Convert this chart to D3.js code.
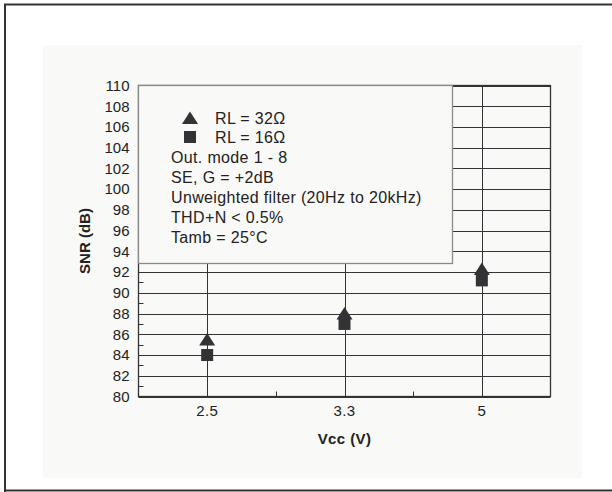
<!DOCTYPE html>
<html lang="en">
<head>
  <meta charset="UTF-8">
  <title>SNR vs Vcc</title>
  <script src="https://d3js.org/d3.v7.min.js"></script>
  <style>
    body { margin: 0; background: #fff; }
    svg { display: block; font-family: "Liberation Sans", Arial, sans-serif; }
  </style>
</head>
<body>
  <div id="chart"></div>
  <script>
    // data
    const vcc = ["2.5", "3.3", "5"];
    const snr32 = [85.5, 88.0, 92.3];   // RL = 32 ohm (triangles)
    const snr16 = [84.0, 87.0, 91.2];   // RL = 16 ohm (squares)
    const yTicks = d3.range(80, 111, 2);
    const yMinor = d3.range(81, 110, 2);
    const legendLines = [
      "Out. mode 1 - 8",
      "SE, G = +2dB",
      "Unweighted filter (20Hz to 20kHz)",
      "THD+N < 0.5%",
      "Tamb = 25\u00B0C"
    ];

    const width = 612, height = 492;
    const ink = "#333336";

    const svg = d3.select("#chart").append("svg")
      .attr("width", width)
      .attr("height", height);

    // page frame + panel background
    svg.append("path")
      .attr("d", "M5,620 V4.5 H620 M5,490.5 H620")
      .attr("fill", "none").attr("stroke", ink).attr("stroke-width", 2);
    svg.append("rect")
      .attr("x", 43).attr("y", 45).attr("width", 539).attr("height", 433)
      .attr("fill", "#f9f9f7");

    const pL = 138.5, pR = 550.5, pT = 85.5, pB = 396.5;

    const x = d3.scaleBand().domain(vcc).range([pL, pR]);
    const y = d3.scaleLinear().domain([80, 110]).range([pB, pT]);

    // horizontal grid
    svg.append("g").selectAll("line")
      .data(yTicks)
      .join("line")
      .attr("x1", pL).attr("x2", pR)
      .attr("y1", d => Math.round(y(d)) + 0.5)
      .attr("y2", d => Math.round(y(d)) + 0.5)
      .attr("stroke", ink);

    // minor ticks on the left axis
    svg.append("g").selectAll("line")
      .data(yMinor)
      .join("line")
      .attr("x1", pL).attr("x2", pL + 5)
      .attr("y1", d => Math.round(y(d)) + 0.5)
      .attr("y2", d => Math.round(y(d)) + 0.5)
      .attr("stroke", ink);

    // vertical grid through category centres
    svg.append("g").selectAll("line")
      .data(vcc)
      .join("line")
      .attr("x1", d => Math.round(x(d) + x.bandwidth() / 2) + 0.5)
      .attr("x2", d => Math.round(x(d) + x.bandwidth() / 2) + 0.5)
      .attr("y1", pT).attr("y2", pB)
      .attr("stroke", ink);

    // small ticks at category boundaries
    svg.append("g").selectAll("line")
      .data(vcc.slice(1))
      .join("line")
      .attr("x1", d => Math.round(x(d)) + 0.5)
      .attr("x2", d => Math.round(x(d)) + 0.5)
      .attr("y1", pB).attr("y2", pB - 5)
      .attr("stroke", ink);

    // plot frame
    svg.append("rect")
      .attr("x", pL).attr("y", pT)
      .attr("width", pR - pL).attr("height", pB - pT)
      .attr("fill", "none").attr("stroke", ink).attr("stroke-width", 1.3);

    // y tick labels
    const yAxis = d3.axisLeft(y).tickValues(yTicks).tickSize(0).tickPadding(9);
    svg.append("g")
      .attr("transform", `translate(${pL},0)`)
      .call(yAxis)
      .call(g => g.select(".domain").remove())
      .selectAll("text")
      .attr("font-size", 15).attr("fill", "#222")
      .attr("font-family", "Liberation Sans, Arial, sans-serif");

    // x tick labels
    const xAxis = d3.axisBottom(x).tickSize(0).tickPadding(9);
    svg.append("g")
      .attr("transform", `translate(0,${pB})`)
      .call(xAxis)
      .call(g => g.select(".domain").remove())
      .selectAll("text")
      .attr("font-size", 15).attr("fill", "#222")
      .attr("letter-spacing", 0.4)
      .attr("font-family", "Liberation Sans, Arial, sans-serif");

    // axis titles
    svg.append("text")
      .attr("x", (pL + pR) / 2).attr("y", 443.5)
      .attr("text-anchor", "middle")
      .attr("font-size", 15).attr("font-weight", "bold").attr("fill", "#222")
      .attr("letter-spacing", 0.4)
      .text("Vcc (V)");
    svg.append("text")
      .attr("transform", `translate(90,${(pT + pB) / 2}) rotate(-90)`)
      .attr("text-anchor", "middle")
      .attr("font-size", 15).attr("font-weight", "bold").attr("fill", "#222")
      .text("SNR (dB)");

    // marker shapes
    const tri = "M0,-6.5 L8,6 L-8,6 Z";
    const sq = "M-6,-6 H6 V6 H-6 Z";

    // legend box
    const box = svg.append("g")
      .attr("font-size", 16).attr("fill", "#222").attr("letter-spacing", 0.35);
    box.append("rect")
      .attr("x", pL).attr("y", pT)
      .attr("width", 314).attr("height", 178)
      .attr("fill", "#f9f9f7").attr("stroke", "#8a8a8a").attr("stroke-width", 1.3);
    box.append("path").attr("d", tri)
      .attr("transform", "translate(190,118)").attr("fill", ink);
    box.append("path").attr("d", sq)
      .attr("transform", "translate(190,137)").attr("fill", ink);
    box.append("text").attr("x", 215).attr("y", 123.5).text("RL = 32\u03A9");
    box.append("text").attr("x", 215).attr("y", 142.5).text("RL = 16\u03A9");
    box.selectAll("text.note")
      .data(legendLines)
      .join("text")
      .attr("class", "note")
      .attr("x", 171)
      .attr("y", (d, i) => 162.5 + i * 20.2)
      .text(d => d);

    // data markers
    const cx = d => x(d) + x.bandwidth() / 2;
    svg.append("g").selectAll("path")
      .data(vcc.map((v, i) => ({ v, s: snr16[i] })))
      .join("path")
      .attr("d", sq)
      .attr("transform", d => `translate(${cx(d.v)},${y(d.s)})`)
      .attr("fill", ink);
    svg.append("g").selectAll("path")
      .data(vcc.map((v, i) => ({ v, s: snr32[i] })))
      .join("path")
      .attr("d", tri)
      .attr("transform", d => `translate(${cx(d.v)},${y(d.s)})`)
      .attr("fill", ink);
  </script>
</body>
</html>
